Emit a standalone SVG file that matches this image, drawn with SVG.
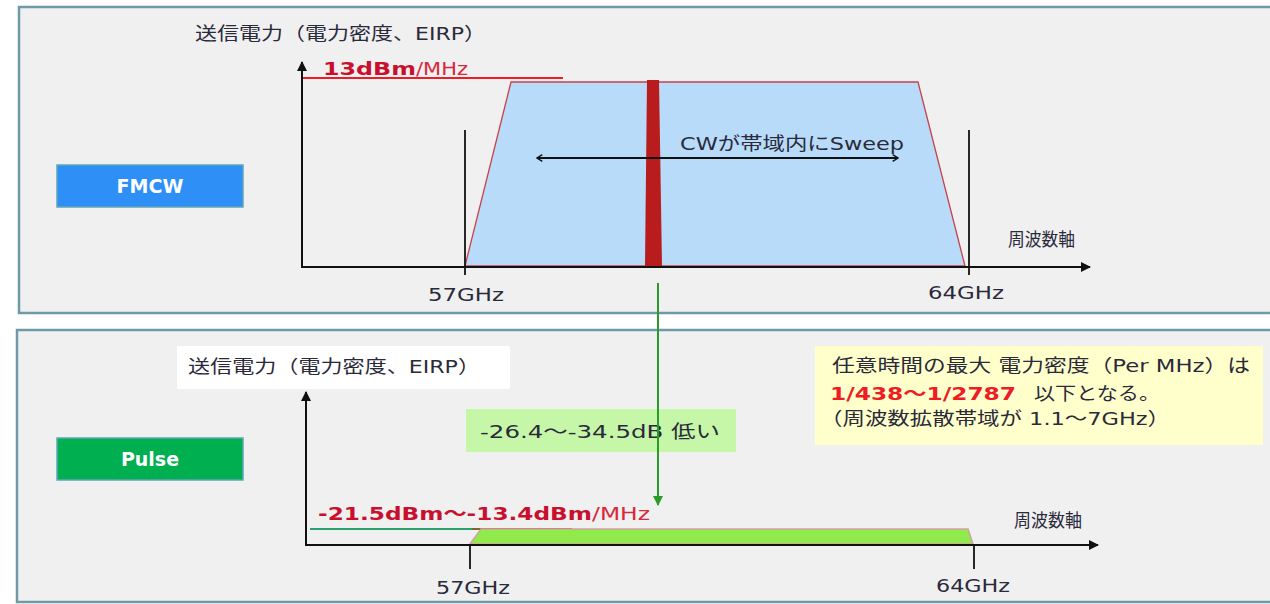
<svg xmlns="http://www.w3.org/2000/svg" width="1270" height="604" viewBox="0 0 1270 604">
<style>
text{font-family:"DejaVu Sans","Noto Sans CJK JP",sans-serif;font-size:18px;fill:#2a2a3a}
.panel{fill:#f0f0f0;stroke:#6d9aa6;stroke-width:2.5}
.ax{stroke:#111;stroke-width:2;fill:none}
.tick{stroke:#111;stroke-width:1.8}
.lbl{fill:#fff;font-weight:bold;font-size:19px}
.red{fill:#d01c2c;font-weight:bold}
.rb{fill:#c8102e;font-weight:bold}
.rn{fill:#d8283a}
</style>
<defs>
<marker id="ah" viewBox="0 0 10 10" refX="9" refY="5" markerWidth="5" markerHeight="5" orient="auto-start-reverse"><path d="M0,0 L10,5 L0,10 z" fill="#111"/></marker>
<marker id="ah2" viewBox="0 0 12 12" refX="10" refY="6" markerWidth="8" markerHeight="8" markerUnits="userSpaceOnUse" orient="auto-start-reverse"><path d="M2,1 L10,6 L2,11" fill="none" stroke="#111" stroke-width="2"/></marker>
<marker id="ahg" viewBox="0 0 10 10" refX="9" refY="5" markerWidth="5" markerHeight="5" orient="auto"><path d="M0,0 L10,5 L0,10 z" fill="#2a9a2a"/></marker>
</defs>
<g id="panel-fmcw">
<rect class="panel" x="19" y="7" width="1262" height="306"/>
</g>
<g id="panel-pulse">
<rect class="panel" x="17" y="330" width="1264" height="272"/>
</g>
<g id="fmcw-label">
<rect x="57" y="165" width="186" height="42" fill="#2e8ff6" stroke="#5fa6b8" stroke-width="1.5"/>
<text class="lbl" x="150" y="193" text-anchor="middle">FMCW</text>
</g>
<g id="pulse-label">
<rect x="57" y="438" width="186" height="42" fill="#00b050" stroke="#5fa6b8" stroke-width="1.5"/>
<text class="lbl" x="150" y="466" text-anchor="middle">Pulse</text>
</g>
<g id="fmcw-chart">
<text x="195" y="40" textLength="291" lengthAdjust="spacingAndGlyphs">送信電力（電力密度、EIRP）</text>
<line x1="302" y1="78" x2="563" y2="78" stroke="#ee1c24" stroke-width="2"/>
<text x="323" y="75"><tspan class="rb" textLength="93" lengthAdjust="spacingAndGlyphs">13dBm</tspan><tspan class="rn" textLength="52" lengthAdjust="spacingAndGlyphs">/MHz</tspan></text>
<polygon points="465,266 511,82 918,82 965,266" fill="#b8dbfa" stroke="#c8404a" stroke-width="1.3"/>
<polygon points="647,80 659,80 662,266 645,266" fill="#b81c1c"/>
<line class="tick" x1="465" y1="130" x2="465" y2="275"/>
<line class="tick" x1="969" y1="130" x2="969" y2="275"/>
<line x1="537" y1="158" x2="898" y2="158" stroke="#111" stroke-width="2" marker-start="url(#ah2)" marker-end="url(#ah2)"/>
<text x="680" y="150" textLength="224" lengthAdjust="spacingAndGlyphs">CWが帯域内にSweep</text>
<text x="1008" y="246" font-size="17" textLength="67" lengthAdjust="spacingAndGlyphs">周波数軸</text>
<text x="466" y="301" text-anchor="middle" textLength="76" lengthAdjust="spacingAndGlyphs">57GHz</text>
<text x="966" y="299" text-anchor="middle" textLength="76" lengthAdjust="spacingAndGlyphs">64GHz</text>
</g>
<g id="pulse-chart">
<rect x="177" y="346" width="333" height="43" fill="#ffffff"/>
<text x="188" y="373" textLength="292" lengthAdjust="spacingAndGlyphs">送信電力（電力密度、EIRP）</text>
<line x1="310" y1="529" x2="472" y2="529" stroke="#2aa070" stroke-width="2"/>
<line x1="472" y1="529" x2="572" y2="529" stroke="#7a6a2a" stroke-width="2"/>
<text x="318" y="520" font-size="19"><tspan class="rb" textLength="274" lengthAdjust="spacingAndGlyphs">-21.5dBm～-13.4dBm</tspan><tspan class="rn" textLength="58" lengthAdjust="spacingAndGlyphs">/MHz</tspan></text>
<polygon points="470,544 481,529 968,529 973,544" fill="#90ea4c" stroke="#d4a0a0" stroke-width="1.5"/>
<line class="tick" x1="470" y1="545" x2="470" y2="569"/>
<line class="tick" x1="974" y1="545" x2="974" y2="569"/>
<text x="1014" y="527" font-size="17" textLength="68" lengthAdjust="spacingAndGlyphs">周波数軸</text>
<text x="473" y="594" text-anchor="middle" textLength="74" lengthAdjust="spacingAndGlyphs">57GHz</text>
<text x="973" y="592" text-anchor="middle" textLength="74" lengthAdjust="spacingAndGlyphs">64GHz</text>
</g>
<g id="diff-label">
<rect x="466" y="409" width="270" height="43" fill="#c6f6a8"/>
<text x="480" y="438" textLength="240" lengthAdjust="spacingAndGlyphs">-26.4～-34.5dB 低い</text>
</g>
<g id="note">
<rect x="815" y="346" width="448" height="99" fill="#ffffcc"/>
<text x="832" y="372" textLength="418" lengthAdjust="spacingAndGlyphs">任意時間の最大 電力密度（Per MHz）は</text>
<text x="830" y="400" style="fill:#ee1c24;font-weight:bold" textLength="186" lengthAdjust="spacingAndGlyphs">1/438～1/2787</text>
<text x="1034" y="400" textLength="126" lengthAdjust="spacingAndGlyphs">以下となる。</text>
<text x="820" y="425" textLength="350" lengthAdjust="spacingAndGlyphs">（周波数拡散帯域が 1.1～7GHz）</text>
</g>
<g id="connectors">
<line class="ax" x1="302" y1="267" x2="302" y2="62" marker-end="url(#ah)"/>
<line class="ax" x1="301" y1="267" x2="1090" y2="267" marker-end="url(#ah)"/>
<line class="ax" x1="306" y1="545" x2="306" y2="392" marker-end="url(#ah)"/>
<line class="ax" x1="305" y1="545" x2="1098" y2="545" marker-end="url(#ah)"/>
<line x1="658" y1="283" x2="658" y2="505" stroke="#2a9a2a" stroke-width="2" marker-end="url(#ahg)"/>
</g>
</svg>
